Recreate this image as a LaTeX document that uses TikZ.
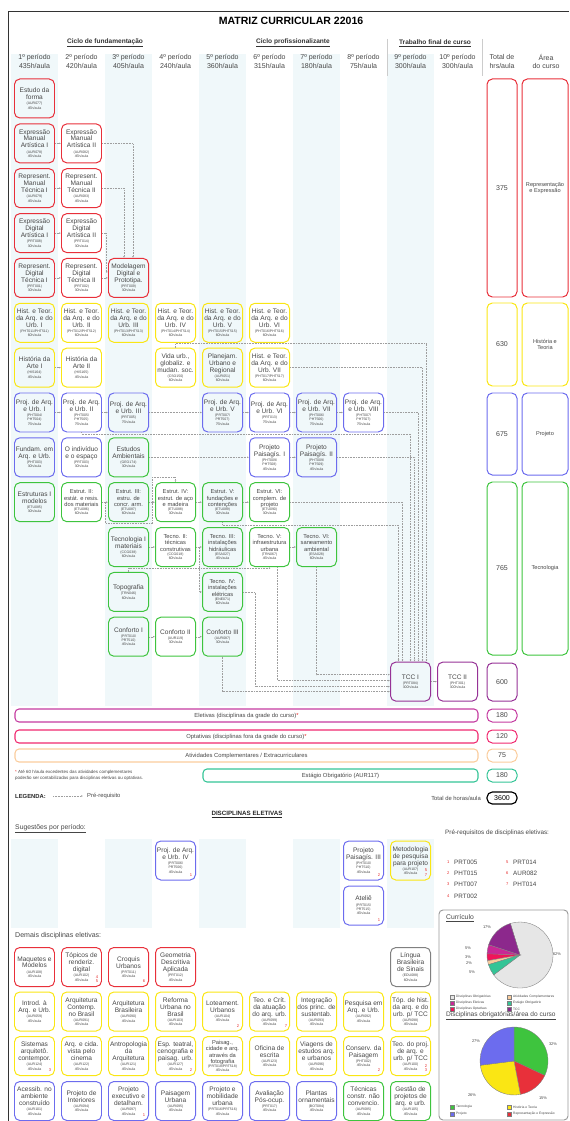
\documentclass[tikz,border=0pt]{standalone}
\usepackage{fontspec}
\setmainfont{Liberation Sans}
\usetikzlibrary{positioning,arrows.meta,calc}

\definecolor{corRep}{RGB}{232,48,58}
\definecolor{corHist}{RGB}{250,230,20}
\definecolor{corProj}{RGB}{108,108,238}
\definecolor{corTec}{RGB}{62,196,62}
\definecolor{corTCC}{RGB}{150,50,150}
\definecolor{corOutra}{RGB}{128,128,128}
\definecolor{corFaixa}{RGB}{240,248,250}
\definecolor{corElet}{RGB}{196,58,160}
\definecolor{corOpt}{RGB}{240,40,110}
\definecolor{corAtiv}{RGB}{250,204,156}
\definecolor{corEst}{RGB}{52,196,150}
\definecolor{corNum}{RGB}{230,40,40}
\definecolor{corTexto}{RGB}{70,70,70}
\definecolor{pieObr}{RGB}{230,230,230}
\definecolor{pieTCC}{RGB}{140,40,140}
\definecolor{pieElet}{RGB}{200,40,150}
\definecolor{pieOpt}{RGB}{240,20,90}

\newcommand{\pequena}{\fontsize{3}{3.5}\selectfont}
\newcommand{\cod}[2]{\\[-1.5pt]{\pequena(#1)}\\[-2.2pt]{\pequena #2}}
\newcommand{\codII}[3]{\\[-1.5pt]{\pequena(#1/}\\[-2.2pt]{\pequena #2)}\\[-2.2pt]{\pequena #3}}

\begin{document}
\begin{tikzpicture}[
    x=0.3mm, y=-0.3mm,
    disc/.style={rectangle, rounded corners=1.6mm, line width=0.85pt, minimum width=12mm, minimum height=11.7mm, inner sep=0pt, align=center, text=corTexto, font=\fontsize{5.6}{5.9}\selectfont},
    menor/.style={font=\fontsize{4.9}{5.3}\selectfont},
    repr/.style={disc, draw=corRep},
    hist/.style={disc, draw=corHist},
    proj/.style={disc, draw=corProj},
    tecn/.style={disc, draw=corTec},
    tcc/.style={disc, draw=corTCC},
    outra/.style={disc, draw=corOutra},
    total/.style={rectangle, rounded corners=1.6mm, line width=0.85pt, minimum width=9mm, inner sep=0pt, text=corTexto, font=\fontsize{6}{7}\selectfont},
    area/.style={total, minimum width=13.8mm, align=center, font=\fontsize{4.8}{5.8}\selectfont},
    barra/.style={rectangle, rounded corners=1.2mm, line width=0.9pt, minimum height=3.9mm, inner sep=0pt, text=corTexto, font=\fontsize{5}{6}\selectfont},
    prereq/.style={densely dotted, black!38, line width=0.35pt, -{Latex[length=1.6pt,width=1.4pt]}},
    periodo/.style={align=center, text=corTexto, font=\fontsize{6}{7}\selectfont},
    ciclo/.style={font=\bfseries\fontsize{5.6}{7}\selectfont, text=black!80},
    texto/.style={inner sep=0pt, text=corTexto, font=\fontsize{5}{6}\selectfont},
    nreq/.style={inner sep=0pt, align=right, text=corNum, font=\fontsize{3.5}{3.8}\selectfont},
    faixa/.style={fill=corFaixa, draw=none},
]
\useasboundingbox (0,0) rectangle (569,1121);

% faixas dos periodos impares
\foreach \c in {1,3,5,7,9} {
    \fill[faixa] ({11+47*(\c-1)},54) rectangle ++(47,652);
    \fill[faixa] ({11+47*(\c-1)},839) rectangle ++(47,89);
}
\draw[black!80, line width=0.8pt] (569,11) -- (8,11) -- (8,1121);

% Cabecalho
\node[font=\bfseries\fontsize{9}{10}\selectfont] (titulo) at (291,21) {MATRIZ CURRICULAR 22016};
\node[ciclo] (cicloF) at (105,43) {\underline{Ciclo de fundamentação}};
\node[ciclo] (cicloP) at (293,43) {\underline{Ciclo profissionalizante}};
\node[ciclo] (cicloT) at (435,43) {\underline{Trabalho final de curso}};
\draw[black!20, line width=0.6pt] (387,39) -- (387,76);
\draw[black!20, line width=0.6pt] (482,39) -- (482,76);
\foreach \p/\h [count=\i] in {1º/435, 2º/420, 3º/405, 4º/240, 5º/360, 6º/315, 7º/180, 8º/75, 9º/300, 10º/300}
    \node[periodo] (per\i) at ({34.5+47*(\i-1)},61.5) {\p{} período\\\h h/aula};
\node[periodo] (perTot) at (502,61.5) {Total de\\hrs/aula};
\node[periodo] (perArea) at (546,61.5) {Área\\do curso};

% Representacao e expressao
\node[repr] (estforma) at (34.5,98.5) {Estudo da\\forma\cod{AUR077}{45h/aula}};
\node[repr] (expmanI) at (34.5,143.4) {Expressão\\Manual\\Artística I\cod{AUR078}{45h/aula}};
\node[repr] (expmanII) at (81.5,143.4) {Expressão\\Manual\\Artística II\cod{AUR082}{45h/aula}};
\node[repr] (repmanI) at (34.5,188.2) {Represent.\\Manual\\Técnica I\cod{AUR079}{45h/aula}};
\node[repr] (repmanII) at (81.5,188.2) {Represent.\\Manual\\Técnica II\cod{AUR083}{45h/aula}};
\node[repr] (expdigI) at (34.5,233.1) {Expressão\\Digital\\Artística I\cod{PRT008}{30h/aula}};
\node[repr] (expdigII) at (81.5,233.1) {Expressão\\Digital\\Artística II\cod{PRT014}{30h/aula}};
\node[repr] (repdigI) at (34.5,277.9) {Represent.\\Digital\\Técnica I\cod{PRT001}{30h/aula}};
\node[repr] (repdigII) at (81.5,277.9) {Represent.\\Digital\\Técnica II\cod{PRT002}{30h/aula}};
\node[repr] (modelagem) at (128.5,277.9) {Modelagem\\Digital e\\Prototipa.\cod{PRT009}{30h/aula}};

% Historia e teoria
\foreach \r/\n [count=\i] in {I/1, II/2, III/3, IV/4, V/5, VI/6}
    \node[hist] (hist\r) at ({34.5+47*(\i-1)},322.8) {Hist. e Teor.\\da Arq. e do\\Urb. \r\cod{PHT01\n/PHT51\n}{60h/aula}};
\node[hist] (arteI) at (34.5,367.6) {História da\\Arte I\cod{HIS164}{45h/aula}};
\node[hist] (arteII) at (81.5,367.6) {História da\\Arte II\cod{HIS165}{45h/aula}};
\node[hist] (vidaurb) at (175.5,367.6) {Vida urb.,\\globaliz. e\\mudan. soc.\cod{CSO150}{60h/aula}};
\node[hist] (planejam) at (222.5,367.6) {Planejam.\\Urbano e\\Regional\cod{AUR051}{60h/aula}};
\node[hist] (histVII) at (269.5,367.6) {Hist. e Teor.\\da Arq. e do\\Urb. VII\cod{PHT017/PHT517}{60h/aula}};

% Projeto
\node[proj] (projI) at (34.5,412.5) {Proj. de Arq.\\e Urb. I\codII{PHT004}{PHT504}{75h/aula}};
\node[proj] (projII) at (81.5,412.5) {Proj. de Arq.\\e Urb. II\codII{PHT005}{PHT505}{75h/aula}};
\node[proj] (projIII) at (128.5,412.5) {Proj. de Arq.\\e Urb. III\cod{PRT005}{75h/aula}};
\node[proj] (projV) at (222.5,412.5) {Proj. de Arq.\\e Urb. V\codII{PRT007}{PRT507}{75h/aula}};
\node[proj] (projVI) at (269.5,412.5) {Proj. de Arq.\\e Urb. VI\cod{PRT013}{75h/aula}};
\node[proj] (projVII) at (316.5,412.5) {Proj. de Arq.\\e Urb. VII\codII{PHT006}{PHT506}{75h/aula}};
\node[proj] (projVIII) at (363.5,412.5) {Proj. de Arq.\\e Urb. VIII\codII{PHT007}{PHT507}{75h/aula}};
\node[proj] (fundam) at (34.5,457.3) {Fundam. em\\Arq. e Urb.\cod{PHT003}{30h/aula}};
\node[proj] (individuo) at (81.5,457.3) {O indivíduo\\e o espaço\cod{PRT003}{30h/aula}};
\node[tecn] (estudamb) at (128.5,457.3) {Estudos\\Ambientais\cod{GEO174}{30h/aula}};
\node[proj] (paisagI) at (269.5,457.3) {Projeto\\Paisagís. I\codII{PHT009}{PHT508}{45h/aula}};
\node[proj] (paisagII) at (316.5,457.3) {Projeto\\Paisagís. II\codII{PHT009}{PHT509}{45h/aula}};

% Tecnologia
\node[tecn] (estrI) at (34.5,502.2) {Estruturas I\\modelos\cod{ETU085}{30h/aula}};
\node[tecn, menor] (estrII) at (81.5,502.2) {Estrut. II:\\estát. e resis.\\dos materiais\cod{ETU086}{60h/aula}};
\node[tecn, menor] (estrIII) at (128.5,502.2) {Estrut. III:\\estru. de\\concr. arm.\cod{ETU087}{60h/aula}};
\node[tecn, menor] (estrIV) at (175.5,502.2) {Estrut. IV:\\estrut. de aço\\e madeira\cod{ETU088}{30h/aula}};
\node[tecn, menor] (estrV) at (222.5,502.2) {Estrut. V:\\fundações e\\contenções\cod{ETU089}{30h/aula}};
\node[tecn, menor] (estrVI) at (269.5,502.2) {Estrut. VI:\\complem. de\\projeto\cod{ETU090}{30h/aula}};
\node[tecn] (tecI) at (128.5,547) {Tecnologia I\\materiais\cod{CCG038}{60h/aula}};
\node[tecn, menor] (tecII) at (175.5,547) {Tecno. II:\\técnicas\\construtivas\cod{CCG018}{60h/aula}};
\node[tecn, menor] (tecIII) at (222.5,547) {Tecno. III:\\instalações\\hidráulicas\cod{ESA027}{45h/aula}};
\node[tecn, menor] (tecV) at (269.5,547) {Tecno. V:\\infraestrutura\\urbana\cod{TRN067}{45h/aula}};
\node[tecn, menor] (tecVI) at (316.5,547) {Tecno. VI:\\saneamento\\ambiental\cod{ESA028}{60h/aula}};
\node[tecn] (topo) at (128.5,591.9) {Topografia\cod{TRN046}{60h/aula}};
\node[tecn, menor] (tecIV) at (222.5,591.9) {Tecno. IV:\\instalações\\elétricas\cod{ENE071}{60h/aula}};
\node[tecn] (confI) at (128.5,636.7) {Conforto I\codII{PRT010}{PRT510}{45h/aula}};
\node[tecn] (confII) at (175.5,636.7) {Conforto II\cod{AUR119}{30h/aula}};
\node[tecn] (confIII) at (222.5,636.7) {Conforto III\cod{AUR087}{30h/aula}};

% TCC
\node[tcc] (tccI) at (410.5,681.6) {TCC I\cod{PRT084}{300h/aula}};
\node[tcc] (tccII) at (457.5,681.6) {TCC II\cod{PHT301}{300h/aula}};

% Totais por area
\node[total, draw=corRep, minimum height=65.4mm] (totRep) at (502,188) {375};
\node[area, draw=corRep, minimum height=65.4mm] (areaRep) at (545,188) {Representação\\e Expressão};
\node[total, draw=corHist, minimum height=24.9mm] (totHist) at (502,344.5) {630};
\node[area, draw=corHist, minimum height=24.9mm] (areaHist) at (545,344.5) {História e\\Teoria};
\node[total, draw=corProj, minimum height=24.6mm] (totProj) at (502,434) {675};
\node[area, draw=corProj, minimum height=24.6mm] (areaProj) at (545,434) {Projeto};
\node[total, draw=corTec, minimum height=51.9mm] (totTec) at (502,568.5) {765};
\node[area, draw=corTec, minimum height=51.9mm] (areaTec) at (545,568.5) {Tecnologia};
\node[total, draw=corTCC, minimum height=11.4mm] (totTCC) at (502,682) {600};

% Pre-requisitos
\draw[prereq] (expmanI) -- (expmanII);
\draw[prereq] (expmanII.east) -| ($(modelagem.north)+(4.5,0)$);
\draw[prereq] (repmanI) -- (repmanII);
\draw[prereq] (repmanII.east) -| ($(modelagem.north)+(-4.5,0)$);
\draw[prereq] (expdigI) -- (expdigII);
\draw[prereq] (expdigII.east) -- ++(4.5,0) |- ($(modelagem.west)+(0,-6)$);
\draw[prereq] (repdigI) -- (repdigII);
\draw[prereq] (repdigII) -- (modelagem);
\draw[prereq] (arteI) -- (arteII);
\draw[prereq] (vidaurb.north) -- ++(0,-4.5) -| ($(tccI.north)+(16,0)$);
\draw[prereq] (histVII.east) -| ($(tccI.north)+(12,0)$);
\draw[prereq] (projI) -- (projII);
\draw[prereq] (projII) -- (projIII);
\draw[prereq] (projIII) -- (projV);
\draw[prereq] (projV) -- (projVI);
\draw[prereq] (projVI) -- (projVII);
\draw[prereq] (projVII) -- (projVIII);
\draw[prereq] (projVIII.east) -| ($(tccI.north)+(8,0)$);
\draw[prereq] (projII.south) -- ++(0,1.5) -| (tccI.north);
\draw[prereq] (estudamb) -- (paisagI);
\draw[prereq] (paisagI) -- (paisagII);
\draw[prereq] (paisagII.east) -| ($(tccI.north)+(4,0)$);
\draw[prereq] (estrII) -- (estrIII);
\draw[prereq] (estrII.east) -- ++(3.5,0) |- ($(estrIII.south east)+(3.5,1)$) |- ($(estrIV.north)+(0,-5)$) -- (estrIV.north);
\draw[prereq] (estrIII) -- (estrIV);
\draw[prereq] (estrIV) -- (estrV);
\draw[prereq] (estrV) -- (estrVI);
\draw[prereq] (estrVI.east) -| ($(tccI.north)+(-8,0)$);
\draw[prereq] (estrV.south) -- ++(0,3) -| ($(tccI.north)+(-12,0)$);
\draw[prereq] (tecI) -- (tecII);
\draw[prereq] (tecII) -- (tecIII);
\draw[prereq] (tecII.east) -- ++(3.5,0) |- (tecIV.west);
\draw[prereq] (tecV) -- (tecVI);
\draw[prereq] (topo.north) -- ++(0,-3.5) -| (tecV.south);
\draw[prereq] ($(tecV.south)+(8,0)$) |- ($(tccI.west)+(0,-1)$);
\draw[prereq] (tecVI.south) |- ($(tccI.west)+(0,-7)$);
\draw[prereq] (tecIV.east) -- ++(12,0) |- ($(tccI.west)+(0,5)$);
\draw[prereq] (confI) -- (confII);
\draw[prereq] (confII) -- (confIII);
\draw[prereq] (confIII.south) |- ($(tccI.west)+(0,10)$);
\draw[prereq] (tccI) -- (tccII);

% Outras componentes
\node[barra, draw=corElet, minimum width=138.9mm] (eletivas) at (246.5,715.5) {Eletivas (disciplinas da grade do curso)\textcolor{corNum}{*}};
\node[total, draw=corElet, minimum height=3.9mm] (totElet) at (502,715.5) {180};
\node[barra, draw=corOpt, minimum width=138.9mm] (optativas) at (246.5,736.5) {Optativas (disciplinas fora da grade do curso)\textcolor{corNum}{*}};
\node[total, draw=corOpt, minimum height=3.9mm] (totOpt) at (502,736.5) {120};
\node[barra, draw=corAtiv, minimum width=138.9mm] (atividades) at (246.5,755.5) {Atividades Complementares / Extracurriculares};
\node[total, draw=corAtiv, minimum height=3.9mm] (totAtiv) at (502,755.5) {75};
\node[barra, draw=corEst, minimum width=82.5mm] (estagio) at (340.5,775.5) {Estágio Obrigatório (AUR117)};
\node[total, draw=corEst, minimum height=3.9mm] (totEst) at (502,775.5) {180};
\node[texto, anchor=west, align=left, font=\fontsize{3.8}{4.6}\selectfont] (nota) at (15,775.5) {\textcolor{corNum}{*} Até 60 h/aula excedentes das atividades complementares\\poderão ser contabilizadas para disciplinas eletivas ou optativas.};
\node[texto, anchor=west, font=\bfseries\fontsize{5}{6}\selectfont, text=black!85] (legenda) at (15,796) {LEGENDA:};
\coordinate (legA) at (53,796);
\coordinate (legB) at (83,796);
\draw[prereq] (legA) -- (legB);
\node[texto, anchor=west] (legPre) at (87,796) {Pré-requisito};
\node[texto, anchor=east] (totalTxt) at (481,798) {Total de horas/aula};
\node[total, draw=black, line width=1pt, minimum height=3.6mm, text=black] (totGeral) at (502,798) {3600};

% Disciplinas eletivas
\node[font=\bfseries\fontsize{5.3}{6}\selectfont, text=black!85] (eletTit) at (247,815) {\underline{DISCIPLINAS ELETIVAS}};
\node[texto, anchor=west, font=\fontsize{5.8}{7}\selectfont] (sugest) at (15,829) {\underline{Sugestões por período:}};
\node[proj] (projIV) at (175.5,860.5) {Proj. de Arq.\\e Urb. IV\codII{PRT006}{PRT506}{45h/aula}};
\node[proj] (paisagIII) at (363.5,860.5) {Projeto\\Paisagís. III\codII{PHT010}{PHT510}{45h/aula}};
\node[proj] (atelie) at (363.5,905.5) {Ateliê\codII{PRT015}{PRT515}{45h/aula}};
\node[hist] (metodol) at (410.5,860.5) {Metodologia\\de pesquisa\\para projeto\cod{AUR107}{45h/aula}};
\node[texto, anchor=west, font=\fontsize{6}{7}\selectfont] (demais) at (15,936) {Demais disciplinas eletivas:};

\node[repr] (maquetes) at (34.5,967) {Maquetes e\\Modelos\cod{AUR108}{45h/aula}};
\node[repr] (topicos) at (81.5,967) {Tópicos de\\renderiz.\\digital\cod{AUR102}{45h/aula}};
\node[repr] (croquis) at (128.5,967) {Croquis\\Urbanos\cod{PRT011}{45h/aula}};
\node[repr] (geometria) at (175.5,967) {Geometria\\Descritiva\\Aplicada\cod{PRT012}{45h/aula}};
\node[outra] (libras) at (410.5,967) {Língua\\Brasileira\\de Sinais\cod{EDU088}{60h/aula}};

\node[hist] (introd) at (34.5,1011.5) {Introd. à\\Arq. e Urb.\cod{AUR059}{45h/aula}};
\node[hist] (arqcont) at (81.5,1011.5) {Arquitetura\\Contemp.\\no Brasil\cod{AUR091}{45h/aula}};
\node[hist] (arqbras) at (128.5,1011.5) {Arquitetura\\Brasileira\cod{AUR090}{45h/aula}};
\node[hist] (reforma) at (175.5,1011.5) {Reforma\\Urbana no\\Brasil\cod{AUR103}{45h/aula}};
\node[hist] (loteam) at (222.5,1011.5) {Loteament.\\Urbanos\cod{AUR104}{45h/aula}};
\node[hist] (teocrit) at (269.5,1011.5) {Teo. e Crít.\\da atuação\\do arq. urb.\cod{AUR099}{45h/aula}};
\node[hist] (integr) at (316.5,1011.5) {Integração\\dos princ. de\\sustentab.\cod{AUR093}{45h/aula}};
\node[hist] (pesquisa) at (363.5,1011.5) {Pesquisa em\\Arq. e Urb.\cod{AUR092}{45h/aula}};
\node[hist] (tophist) at (410.5,1011.5) {Tóp. de hist.\\da arq. e do\\urb. p/ TCC\cod{AUR098}{45h/aula}};

\node[hist] (sistemas) at (34.5,1056) {Sistemas\\arquitetô.\\contempor.\cod{AUR124}{45h/aula}};
\node[hist] (cinema) at (81.5,1056) {Arq. e cida.\\vista pelo\\cinema\cod{AUR122}{45h/aula}};
\node[hist] (antropol) at (128.5,1056) {Antropologia\\da\\Arquitetura\cod{AUR121}{45h/aula}};
\node[hist] (espteatral) at (175.5,1056) {Esp. teatral,\\cenografia e\\paisag. urb.\cod{AUR127}{45h/aula}};
\node[hist, menor] (fotografia) at (222.5,1056) {Paisag.,\\cidade e arq.\\através da\\fotografia\cod{PRT018/PRT518}{45h/aula}};
\node[hist] (oficina) at (269.5,1056) {Oficina de\\escrita\cod{AUR123}{45h/aula}};
\node[hist] (viagens) at (316.5,1056) {Viagens de\\estudos arq.\\e urbanos\cod{AUR096}{45h/aula}};
\node[hist] (conserv) at (363.5,1056) {Conserv. da\\Paisagem\cod{PHT002}{45h/aula}};
\node[hist] (teoproj) at (410.5,1056) {Teo. do proj.\\de arq. e\\urb. p/ TCC\cod{AUR100}{45h/aula}};

\node[proj] (acessib) at (34.5,1101) {Acessib. no\\ambiente\\construído\cod{AUR101}{45h/aula}};
\node[proj] (interiores) at (81.5,1101) {Projeto de\\Interiores\cod{AUR094}{45h/aula}};
\node[proj] (executivo) at (128.5,1101) {Projeto\\executivo e\\detalham.\cod{AUR097}{45h/aula}};
\node[proj] (paisurb) at (175.5,1101) {Paisagem\\Urbana\cod{AUR095}{45h/aula}};
\node[proj] (mobilid) at (222.5,1101) {Projeto e\\mobilidade\\urbana\cod{PRT016/PRT516}{45h/aula}};
\node[proj] (avaliacao) at (269.5,1101) {Avaliação\\Pós-ocup.\cod{PRT017}{45h/aula}};
\node[proj] (plantas) at (316.5,1101) {Plantas\\ornamentais\cod{BOT084}{45h/aula}};
\node[tecn] (tecnicas) at (363.5,1101) {Técnicas\\constr. não\\convencio.\cod{AUR085}{45h/aula}};
\node[tecn] (gestao) at (410.5,1101) {Gestão de\\projetos de\\arq. e urb.\cod{AUR105}{45h/aula}};

% numeros dos pre-requisitos
\node[nreq, anchor=south east] (nProjIV) at ($(projIV.south east)+(-3.5,-4)$) {1};
\node[nreq, anchor=south east] (nPaisagIII) at ($(paisagIII.south east)+(-3.5,-4)$) {2};
\node[nreq, anchor=south east] (nAtelie) at ($(atelie.south east)+(-3.5,-4)$) {1};
\node[nreq, anchor=south east] (nMetodol) at ($(metodol.south east)+(-3.5,-4)$) {5\\7};
\node[nreq, anchor=south east] (nTopicos) at ($(topicos.south east)+(-3.5,-4)$) {4\\5};
\node[nreq, anchor=south east] (nCroquis) at ($(croquis.south east)+(-3.5,-4)$) {6};
\node[nreq, anchor=south east] (nLoteam) at ($(loteam.south east)+(-3.5,-4)$) {2};
\node[nreq, anchor=south east] (nTeocrit) at ($(teocrit.south east)+(-2.5,-4)$) {7};
\node[nreq, anchor=south east] (nSistemas) at ($(sistemas.south east)+(-3.5,-4)$) {3};
\node[nreq, anchor=south east] (nEspteatral) at ($(espteatral.south east)+(-3.5,-4)$) {2};
\node[nreq, anchor=south east] (nConserv) at ($(conserv.south east)+(-3.5,-4)$) {2};
\node[nreq, anchor=south east] (nTeoproj) at ($(teoproj.south east)+(-3.5,-4)$) {2\\3};
\node[nreq, anchor=south east] (nExecutivo) at ($(executivo.south east)+(-3.5,-4)$) {1};

% lista de pre-requisitos
\node[texto, anchor=west, font=\fontsize{5.4}{6}\selectfont] (preTit) at (445,833) {Pré-requisitos de disciplinas eletivas:};
\foreach \n/\c/\x/\y in {1/PRT005/447/862, 2/PHT015/447/873, 3/PHT007/447/884, 4/PRT002/447/896, 5/PRT014/506/862, 6/AUR082/506/873, 7/PHT014/506/884} {
    \node[nreq, anchor=west] (preN\n) at (\x,\y) {\n};
    \node[texto, anchor=west, font=\fontsize{5.4}{6}\selectfont] (preC\n) at (\x+7,\y) {\c};
}

% graficos
\draw[black!40, line width=0.8pt, rounded corners=1.2mm] (439,910) rectangle (568,1120);
\node[texto, anchor=west, font=\fontsize{5.8}{7}\selectfont] (curricTit) at (446,918) {\underline{Currículo}};
\coordinate (pieA) at (520,955);
\begin{scope}[shift={(pieA)}, x=0.3mm, y=0.3mm, draw=black!50, line width=0.3pt]
    \filldraw[fill=pieObr] (0,0) -- (-143:33) arc[start angle=-143, end angle=107, radius=33] -- cycle;
    \filldraw[fill=pieTCC] (0,0) -- (107:33) arc[start angle=107, end angle=162, radius=33] -- cycle;
    \filldraw[fill=pieElet] (0,0) -- (162:33) arc[start angle=162, end angle=178, radius=33] -- cycle;
    \filldraw[fill=pieOpt] (0,0) -- (178:33) arc[start angle=178, end angle=190, radius=33] -- cycle;
    \filldraw[fill=corAtiv] (0,0) -- (190:33) arc[start angle=190, end angle=197, radius=33] -- cycle;
    \filldraw[fill=corEst] (0,0) -- (197:33) arc[start angle=197, end angle=217, radius=33] -- cycle;
\end{scope}
\foreach \t/\x/\y [count=\i] in {17\%/487/927, 5\%/468/948, 3\%/468/957, 2\%/469/963, 5\%/472/972, 62\%/557/954}
    \node[texto, font=\fontsize{3.4}{4}\selectfont] (pctA\i) at (\x,\y) {\t};
\foreach \cor/\t/\x/\y [count=\i] in {pieObr/Disciplinas Obrigatórias/452/997, pieElet/Disciplinas Eletivas/452/1003, pieOpt/Disciplinas Optativas/452/1009, corAtiv/Atividades Complementares/509/997, corEst/Estágio Obrigatório/509/1003, pieTCC/TCC/509/1009} {
    \filldraw[fill=\cor, draw=black!50, line width=0.2pt] (\x-2,\y-2) rectangle (\x+2,\y+2);
    \node[texto, anchor=west, font=\fontsize{2.8}{3.2}\selectfont] (legA\i) at (\x+4,\y) {\t};
}
\node[texto, anchor=west, font=\fontsize{5.6}{7}\selectfont] (areaTit) at (446,1016) {\underline{Disciplinas obrigatórias/área do curso}};
\coordinate (pieB) at (514,1061);
\begin{scope}[shift={(pieB)}, x=0.3mm, y=0.3mm, draw=black!50, line width=0.3pt]
    \filldraw[fill=corTec] (0,0) -- (-25.2:34) arc[start angle=-25.2, end angle=90, radius=34] -- cycle;
    \filldraw[fill=corRep] (0,0) -- (-79.2:34) arc[start angle=-79.2, end angle=-25.2, radius=34] -- cycle;
    \filldraw[fill=corHist] (0,0) -- (-172.8:34) arc[start angle=-172.8, end angle=-79.2, radius=34] -- cycle;
    \filldraw[fill=corProj] (0,0) -- (90:34) arc[start angle=90, end angle=187.2, radius=34] -- cycle;
\end{scope}
\foreach \t/\x/\y [count=\i] in {27\%/476/1041, 32\%/553/1044, 15\%/543/1098, 26\%/472/1095}
    \node[texto, font=\fontsize{3.4}{4}\selectfont] (pctB\i) at (\x,\y) {\t};
\foreach \cor/\t/\x/\y [count=\i] in {corTec/Tecnologia/452/1107, corProj/Projeto/452/1114, corHist/História e Teoria/509/1107, corRep/Representação e Expressão/509/1114} {
    \filldraw[fill=\cor, draw=black!50, line width=0.2pt] (\x-2,\y-2) rectangle (\x+2,\y+2);
    \node[texto, anchor=west, font=\fontsize{2.8}{3.2}\selectfont] (legB\i) at (\x+4,\y) {\t};
}
\end{tikzpicture}
\end{document}
